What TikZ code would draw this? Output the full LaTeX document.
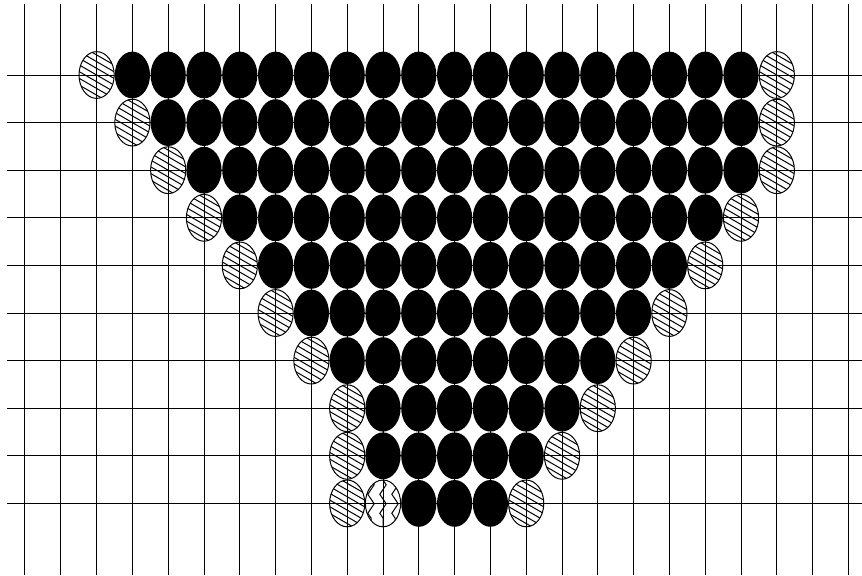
\documentclass[tikz,border=0pt]{standalone}
\usetikzlibrary{decorations.pathmorphing}

\begin{document}
\begin{tikzpicture}[x=17.9pt, y=-23.8pt,
  gridline/.style={line width=0.5pt},
  blackstone/.style={fill=black},
  hatchstone/.style={draw, line width=0.5pt, path picture={
    \foreach \k in {-5,...,5}
      \draw[line width=0.5pt]
        ([shift={(-15pt,{\k*3.35pt+8.66pt})}]path picture bounding box.center)
        -- ([shift={(15pt,{\k*3.35pt-8.66pt})}]path picture bounding box.center);}},
  zigstone/.style={draw, line width=0.5pt, path picture={
    \foreach \dx in {-6,0,6}
      \draw[line width=0.5pt, decorate,
        decoration={zigzag, segment length=9.5pt, amplitude=1.6pt}]
        ([xshift=\dx pt]path picture bounding box.north)
        -- ([xshift=\dx pt]path picture bounding box.south);}}]
  \useasboundingbox (-0.6983,-1.5756) rectangle (23.380,10.5042);

  % Grid
  \foreach \c in {0,...,23}
    \draw[gridline] (\c,-1.4916) -- (\c,10.5042);
  \foreach \r in {0,...,9}
    \draw[gridline] (-0.5028,\r) -- (23.380,\r);

  % Stones: row / left hatched / first black / last black / right hatched
  \foreach \r/\lh/\a/\b/\rh in {0/2/3/20/21, 1/3/4/20/21, 2/4/5/20/21,
      3/5/6/19/20, 4/6/7/18/19, 5/7/8/17/18, 6/8/9/16/17,
      7/9/10/15/16, 8/9/10/14/15, 9/9/11/13/14} {
    \foreach \c in {\a,...,\b}
      \fill[blackstone] (\c,\r) ellipse [x radius=8.8pt, y radius=11.7pt];
    \path[hatchstone] (\lh,\r) ellipse [x radius=8.8pt, y radius=11.7pt];
    \path[hatchstone] (\rh,\r) ellipse [x radius=8.8pt, y radius=11.7pt];
  }

  % Zigzag stone
  \path[zigstone] (10,9) ellipse [x radius=8.8pt, y radius=11.7pt];
\end{tikzpicture}
\end{document}
